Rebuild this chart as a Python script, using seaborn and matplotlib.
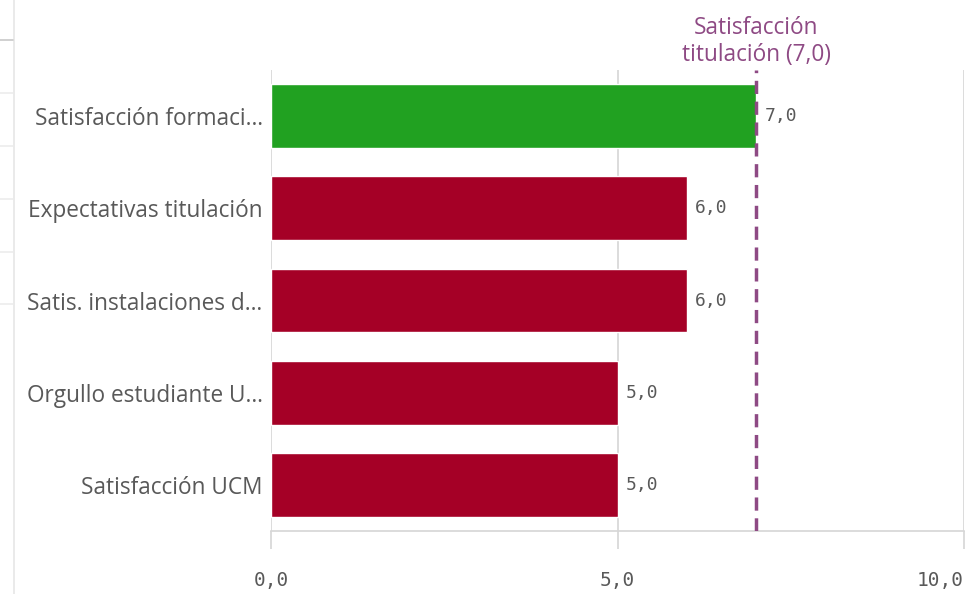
import matplotlib
matplotlib.use("Agg")
import matplotlib.pyplot as plt
from matplotlib.lines import Line2D
import seaborn as sns
import pandas as pd

categories = ["Satisfacción formaci…", "Expectativas titulación", "Satis. instalaciones d…",
              "Orgullo estudiante U…", "Satisfacción UCM"]
values = [7.0, 6.0, 6.0, 5.0, 5.0]
bar_colors = ["#21a121", "#a50026", "#a50026", "#a50026", "#a50026"]
ref_value = 7.0
ref_label = "Satisfacción\ntitulación (7,0)"
x_ticks = [0, 5, 10]
x_tick_labels = ["0,0", "5,0", "10,0"]

df = pd.DataFrame({"cat": categories, "val": values})

sns.set_style("white")
plt.rcParams["font.family"] = ["Open Sans", "DejaVu Sans"]

W, H = 969, 594
fig = plt.figure(figsize=(W / 100, H / 100), dpi=100)
ax = fig.add_axes([271 / W, 1 - 531 / H, (964 - 271) / W, (531 - 70) / H])

sns.barplot(data=df, y="cat", x="val", hue="cat", palette=bar_colors, legend=False,
            orient="h", width=0.69, ax=ax, saturation=1)

ax.set_xlim(0, 10)
ax.set_ylim(4.5, -0.5)
ax.set_xlabel("")
ax.set_ylabel("")

grid_c = "#d6d6d6"
for s in ["top", "right", "left"]:
    ax.spines[s].set_visible(False)
ax.spines["bottom"].set_color(grid_c)
ax.spines["bottom"].set_linewidth(1.2)
for xv in x_ticks:
    ax.axvline(xv, color=grid_c, lw=1.2, zorder=0)

ax.set_xticks(x_ticks)
ax.set_xticklabels(x_tick_labels, family=["DejaVu Sans Mono"], fontsize=14, color="#595959")
ax.get_xticklabels()[-1].set_ha("right")
ax.tick_params(axis="x", bottom=True, direction="out", length=13, width=1.2, color=grid_c, pad=16)
ax.tick_params(axis="y", length=0, pad=6, labelsize=16.3, labelcolor="#595959")

# value labels
for i, v in enumerate(values):
    ax.annotate(f"{v:.1f}".replace(".", ","), xy=(v, i), xytext=(6, 0), textcoords="offset points",
                va="center", ha="left", fontsize=13, color="#595959", family=["DejaVu Sans Mono"])

# reference line
ref_c = "#8e4a84"
ax.axvline(ref_value, color=ref_c, lw=2.5, ls=(0, (3.8, 2.2)), zorder=3)
ax.annotate(ref_label, xy=(ref_value, 1.0), xycoords=("data", "axes fraction"),
            xytext=(0, 2), textcoords="offset points", ha="center", va="bottom",
            fontsize=16.3, color=ref_c, linespacing=1.2, annotation_clip=False)

# left UI artifacts
fig.add_artist(Line2D([14 / W, 14 / W], [0, 1], color="#e6e6e6", lw=1.2))
for k, yy in enumerate([40, 93, 146, 199, 252, 304]):
    fig.add_artist(Line2D([0, 13 / W], [1 - yy / H, 1 - yy / H],
                          color="#c8c8c8" if k == 0 else "#ececec", lw=1.2))

fig.savefig("out.png", dpi=100)
